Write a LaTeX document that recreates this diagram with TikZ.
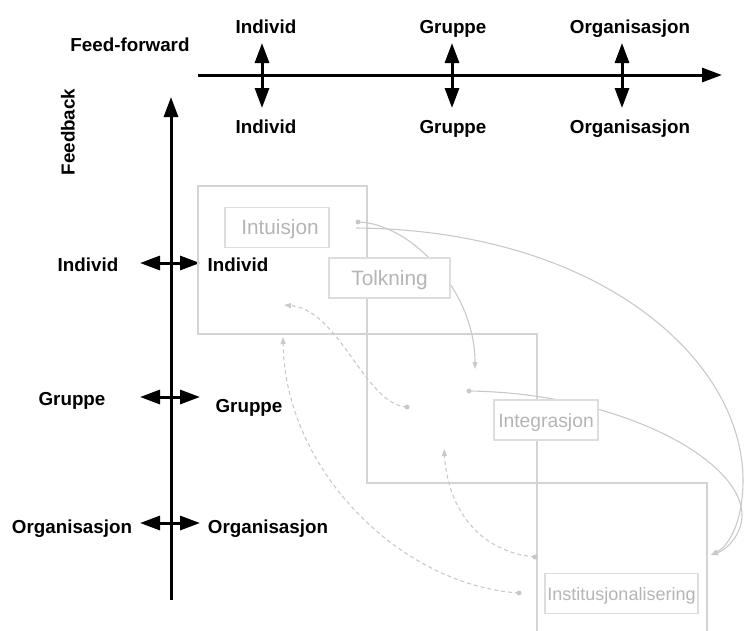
\documentclass[tikz,border=0pt]{standalone}
\usepackage{fontspec}
\setmainfont{Liberation Sans}
\usetikzlibrary{arrows.meta}
\definecolor{stepline}{HTML}{D4D4D4}
\definecolor{boxline}{HTML}{DDDDDD}
\definecolor{boxtext}{HTML}{B5B5B5}
\definecolor{flow}{HTML}{C9C9C9}
\begin{document}
\begin{tikzpicture}[x=1pt,y=-1pt,
  lvl/.style={font=\fontsize{18.8}{20}\selectfont\bfseries, anchor=base, inner sep=0pt},
  bigtip/.tip={Triangle[length=20pt,width=14pt]},
  axis/.style={line width=3pt, -bigtip},
  dbl/.style={line width=3pt, bigtip-bigtip},
  stage/.style={draw=boxline, line width=1.2pt, fill=white, text=boxtext,
    text height=14pt, text depth=0pt, inner sep=0pt, minimum height=40pt},
  steprect/.style={draw=stepline, line width=2.2pt},
  flowline/.style={draw=flow, line width=1.1pt, -{Triangle[length=7pt,width=5pt]}},
  fbline/.style={flowline, dash pattern=on 4pt off 3pt},
  dot/.style={circle, fill=flow, inner sep=0pt, minimum size=5pt}
]
\clip (0,0) rectangle (744,630);

% ---- feed-forward axis with its level arrows
\coordinate (ffs) at (198,75);
\coordinate (ffe) at (722,75);
\draw[axis] (ffs) -- (ffe);
\node[lvl] (fflabel) at (130,51) {Feed-forward};

\foreach \n/\x in {ind/262, grp/452, org/622}{
  \coordinate (\n top) at (\x,43);
  \coordinate (\n bot) at (\x,108);
  \draw[dbl] (\n top) -- (\n bot);
}
\node[lvl] (ffind1) at (266,33) {Individ};
\node[lvl] (ffgrp1) at (453,33) {Gruppe};
\node[lvl] (fforg1) at (630,33) {Organisasjon};
\node[lvl] (ffind2) at (266,133) {Individ};
\node[lvl] (ffgrp2) at (453,133) {Gruppe};
\node[lvl] (fforg2) at (630,133) {Organisasjon};

% ---- feedback axis with its level arrows
\coordinate (fbs) at (171,600);
\coordinate (fbe) at (171,97);
\draw[axis] (fbs) -- (fbe);
\node[font=\fontsize{18.8}{20}\selectfont\bfseries, rotate=90, inner sep=0pt] (fblabel) at (68,132) {Feedback};

\foreach \n/\y in {ind/263, grp/397, org/523}{
  \coordinate (\n L) at (140,\y);
  \coordinate (\n R) at (200,\y);
  \draw[dbl] (\n L) -- (\n R);
}
\node[lvl] (fbind1) at (88,271) {Individ};
\node[lvl] (fbgrp1) at (72,405) {Gruppe};
\node[lvl] (fborg1) at (72,533) {Organisasjon};
\node[lvl] (fbind2) at (238,271) {Individ};
\node[lvl] (fbgrp2) at (249,412) {Gruppe};
\node[lvl] (fborg2) at (268,533) {Organisasjon};

% ---- level boxes, stepping down to the right
\draw[steprect] (198,186) rectangle (367,334);
\draw[steprect] (367,334) rectangle (537,483);
\draw[steprect] (537,632) -- (537,483) -- (707,483) -- (707,632);

% ---- feed-forward flows
\node[dot] (d1) at (358,222) {};
\coordinate (c2s) at (356,228);
\node[dot] (d3) at (469,391) {};
\coordinate (t1) at (475,369);
\coordinate (t23) at (711,555);
\draw[flowline] (d1.center) .. controls (410,223) and (475,290) .. (t1);
\draw[flow, line width=1.1pt] (c2s) .. controls (600,230) and (743,360) .. (743,480);
\draw[flowline] (743,480) .. controls (743,520) and (730,545) .. (t23);
\draw[flow, line width=1.1pt] (d3.center) .. controls (620,393) and (742,460) .. (742,515);
\draw[flowline] (742,515) .. controls (742,535) and (726,550) .. (t23);

% ---- feedback flows
\node[dot] (e1) at (407,407) {};
\node[dot] (e2) at (535,557) {};
\node[dot] (e3) at (519,593) {};
\coordinate (u1) at (284,305);
\coordinate (u2) at (444,449);
\coordinate (u3) at (283,337);
\draw[fbline] (e1.center) .. controls (365,405) and (340,310) .. (u1);
\draw[fbline] (e2.center) .. controls (480,552) and (448,510) .. (u2);
\draw[fbline] (e3.center) .. controls (400,585) and (285,470) .. (u3);

% ---- process stages
\node[stage, minimum width=104pt, font=\fontsize{20.8}{22}\selectfont] (intu) at (277,227.5) {\hspace{6pt}Intuisjon};
\node[stage, minimum width=121pt, font=\fontsize{20.8}{22}\selectfont] (tolk) at (389.5,278) {Tolkning};
\node[stage, minimum width=104pt, font=\fontsize{19.3}{21}\selectfont] (integ) at (546,420) {Integrasjon};
\node[stage, minimum width=153pt, font=\fontsize{18}{20}\selectfont] (inst) at (621.5,593.5) {Institusjonalisering};
\end{tikzpicture}
\end{document}
